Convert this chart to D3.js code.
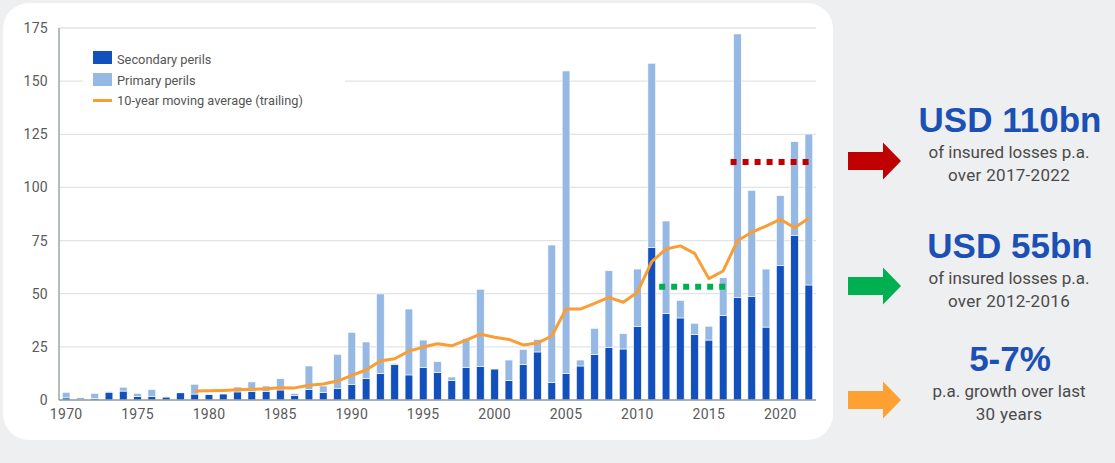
<!DOCTYPE html>
<html>
<head>
<meta charset="utf-8">
<script src="https://cdn.jsdelivr.net/npm/d3@7"></script>
<style>
  body { margin: 0; background: #eeeff1; }
  svg { display: block; font-family: Roboto, "Liberation Sans", Arial, sans-serif; }
</style>
</head>
<body>
<svg id="chart" width="1115" height="463"></svg>
<script>
// categories
const years = d3.range(1970, 2023);
// insured losses, USD bn
const secondary = [1.0,0.2,0.8,3.7,4.2,1.6,1.6,1.4,3.4,2.8,
  2.5,2.8,3.8,4.1,4.1,4.7,2.2,5.0,3.6,5.5,
  7.2,10.2,12.4,16.6,11.8,15.2,13.0,9.1,15.2,15.8,
  14.6,9.1,16.6,22.6,8.3,12.5,16.0,21.5,24.8,24.0,
  34.5,71.8,40.6,38.6,30.9,28.2,39.8,48.3,48.8,34.3,
  63.2,77.5,54.1];
const primary = [2.6,0.9,2.3,0.2,1.8,1.5,3.3,0.1,0.1,4.6,
  0,0,2.3,4.4,2.5,5.3,0.9,11.0,3.0,16.0,
  24.6,17.1,37.5,0.6,31.0,13.0,5.0,1.7,13.8,36.3,
  0.3,9.7,7.2,5.9,64.6,142.3,2.8,12.2,36.0,7.2,
  27.1,86.6,43.6,8.2,5.2,6.5,17.7,123.9,49.8,27.3,
  32.9,44.0,71.0];
// 10-year trailing moving average, from 1979
const maYears = d3.range(1979, 2023);
const movingAvg = [4.2,4.3,4.5,4.8,5.0,5.3,5.8,5.7,6.9,7.5,
  8.9,11.6,14.1,18.3,19.4,23.0,24.9,26.5,25.5,28.2,
  31.0,29.5,28.5,25.9,26.8,30.1,42.8,42.8,45.5,48.3,
  46.0,50.7,65.1,71.0,72.5,69.0,57.1,60.7,74.9,78.9,
  81.8,85.0,81.0,85.5];
// average lines
const avgFrom = [2012, 2017];
const avgTo = [2016, 2022];
const avgValue = [53.3, 112];
const avgColor = ["#00b050", "#c00000"];
const yTicks = [0, 25, 50, 75, 100, 125, 150, 175];
const xTicks = [1970, 1975, 1980, 1985, 1990, 1995, 2000, 2005, 2010, 2015, 2020];

// right-hand callouts
const calloutTitle = ["USD 110bn", "USD 55bn", "5-7%"];
const calloutLine1 = ["of insured losses p.a.", "of insured losses p.a.", "p.a. growth over last"];
const calloutLine2 = ["over 2017-2022", "over 2012-2016", "30 years"];
const calloutColor = ["#c00000", "#00b050", "#fda232"];

const colors = { secondary: "#1150bd", primary: "#96b8e5", avg: "#fa9d35" };

const svg = d3.select("#chart");

// white card
svg.append("rect")
  .attr("x", 3).attr("y", 3)
  .attr("width", 830).attr("height", 437)
  .attr("rx", 26)
  .attr("fill", "#fff");

const x = d3.scaleBand().domain(years).range([59, 816]).paddingInner(0.46).paddingOuter(0.23);
const y = d3.scaleLinear().domain([0, 175]).range([400, 28]);

// gridlines
svg.append("g")
  .selectAll("line")
  .data(yTicks.slice(1))
  .enter()
  .append("line")
  .attr("x1", 59).attr("x2", 816)
  .attr("y1", d => y(d)).attr("y2", d => y(d))
  .attr("stroke", "#e1e3e4")
  .attr("stroke-width", 1.3);

// y labels
svg.append("g")
  .selectAll("text")
  .data(yTicks)
  .enter()
  .append("text")
  .attr("x", 48)
  .attr("y", d => y(d))
  .attr("dy", "0.36em")
  .attr("text-anchor", "end")
  .attr("fill", "#5a5a5a")
  .style("font-size", "14px")
  .style("letter-spacing", "0.3px")
  .text(d => d);

// stacked bars
const rows = years.map((yr, i) => ({ year: yr, secondary: secondary[i], primary: primary[i] }));
const stacked = d3.stack().keys(["secondary", "primary"])(rows);

svg.append("g")
  .selectAll("g")
  .data(stacked)
  .enter()
  .append("g")
  .attr("fill", d => colors[d.key])
  .selectAll("rect")
  .data(d => d)
  .enter()
  .append("rect")
  .attr("x", d => x(d.data.year))
  .attr("width", x.bandwidth())
  .attr("y", d => y(d[1]))
  .attr("height", d => Math.max(0, y(d[0]) - y(d[1])))
  .attr("stroke", "#fff")
  .attr("stroke-width", 0.6);

// axes lines
svg.append("line")
  .attr("x1", 59).attr("x2", 59).attr("y1", 28).attr("y2", 400)
  .attr("stroke", "#8d9a99").attr("stroke-width", 1.3);
svg.append("line")
  .attr("x1", 59).attr("x2", 816).attr("y1", 400).attr("y2", 400)
  .attr("stroke", "#8d9a99").attr("stroke-width", 1.3);

// x labels
svg.append("g")
  .selectAll("text")
  .data(xTicks)
  .enter()
  .append("text")
  .attr("x", d => x(d) + x.bandwidth() / 2)
  .attr("y", 419)
  .attr("text-anchor", "middle")
  .attr("fill", "#5a5a5a")
  .style("font-size", "14px")
  .style("letter-spacing", "0.3px")
  .text(d => d);

// moving average
const line = d3.line()
  .x((d, i) => x(maYears[i]) + x.bandwidth() / 2)
  .y(d => y(d));
svg.append("path")
  .datum(movingAvg)
  .attr("d", line)
  .attr("fill", "none")
  .attr("stroke", colors.avg)
  .attr("stroke-width", 3)
  .attr("stroke-linejoin", "round");

// dotted average lines
svg.append("g")
  .selectAll("line")
  .data(avgValue)
  .enter()
  .append("line")
  .attr("x1", (d, i) => x(avgFrom[i]) - 3)
  .attr("x2", (d, i) => x(avgTo[i]) + x.bandwidth())
  .attr("y1", d => y(d)).attr("y2", d => y(d))
  .attr("stroke", (d, i) => avgColor[i])
  .attr("stroke-width", 6)
  .attr("stroke-dasharray", "6,6");

// legend
const legend = svg.append("g");
legend.append("rect").attr("x", 83).attr("y", 44).attr("width", 262).attr("height", 68).attr("fill", "#fff");
legend.append("rect").attr("x", 93).attr("y", 51).attr("width", 19).attr("height", 13).attr("fill", colors.secondary);
legend.append("rect").attr("x", 93).attr("y", 73).attr("width", 19).attr("height", 13).attr("fill", colors.primary);
legend.append("line").attr("x1", 93).attr("x2", 112).attr("y1", 100.5).attr("y2", 100.5).attr("stroke", colors.avg).attr("stroke-width", 3);
legend.append("text").attr("x", 117).attr("y", 60).attr("dy", "0.35em").text("Secondary perils").style("font-size", "12.8px").attr("fill", "#555");
legend.append("text").attr("x", 117).attr("y", 81).attr("dy", "0.35em").text("Primary perils").style("font-size", "12.8px").attr("fill", "#555");
legend.append("text").attr("x", 117).attr("y", 101).attr("dy", "0.35em").text("10-year moving average (trailing)").style("font-size", "12.8px").attr("fill", "#555");

// callouts with arrows
const arrowY = [161, 286, 400];
const titleY = [132, 258, 371];
const callouts = svg.append("g")
  .selectAll("g")
  .data(calloutTitle)
  .enter()
  .append("g");

callouts.append("path")
  .attr("d", (d, i) => {
    const c = arrowY[i];
    return `M848,${c - 9}L883,${c - 9}L883,${c - 18.5}L901,${c}L883,${c + 18.5}L883,${c + 9}L848,${c + 9}Z`;
  })
  .attr("fill", (d, i) => calloutColor[i]);

callouts.append("text")
  .attr("x", 1010)
  .attr("y", (d, i) => titleY[i])
  .attr("text-anchor", "middle")
  .attr("fill", "#1b50b4")
  .style("font-size", "35px")
  .style("font-weight", "bold")
  .style("font-family", "'Liberation Sans', Arial, sans-serif")
  .text(d => d);

callouts.append("text")
  .attr("x", 1009)
  .attr("y", (d, i) => titleY[i] + 26)
  .attr("text-anchor", "middle")
  .attr("fill", "#4a4a4a")
  .style("font-size", "17px")
  .text((d, i) => calloutLine1[i]);

callouts.append("text")
  .attr("x", 1009)
  .attr("y", (d, i) => titleY[i] + 49)
  .attr("text-anchor", "middle")
  .attr("fill", "#4a4a4a")
  .style("font-size", "17px")
  .style("letter-spacing", "0.3px")
  .text((d, i) => calloutLine2[i]);
</script>
</body>
</html>
